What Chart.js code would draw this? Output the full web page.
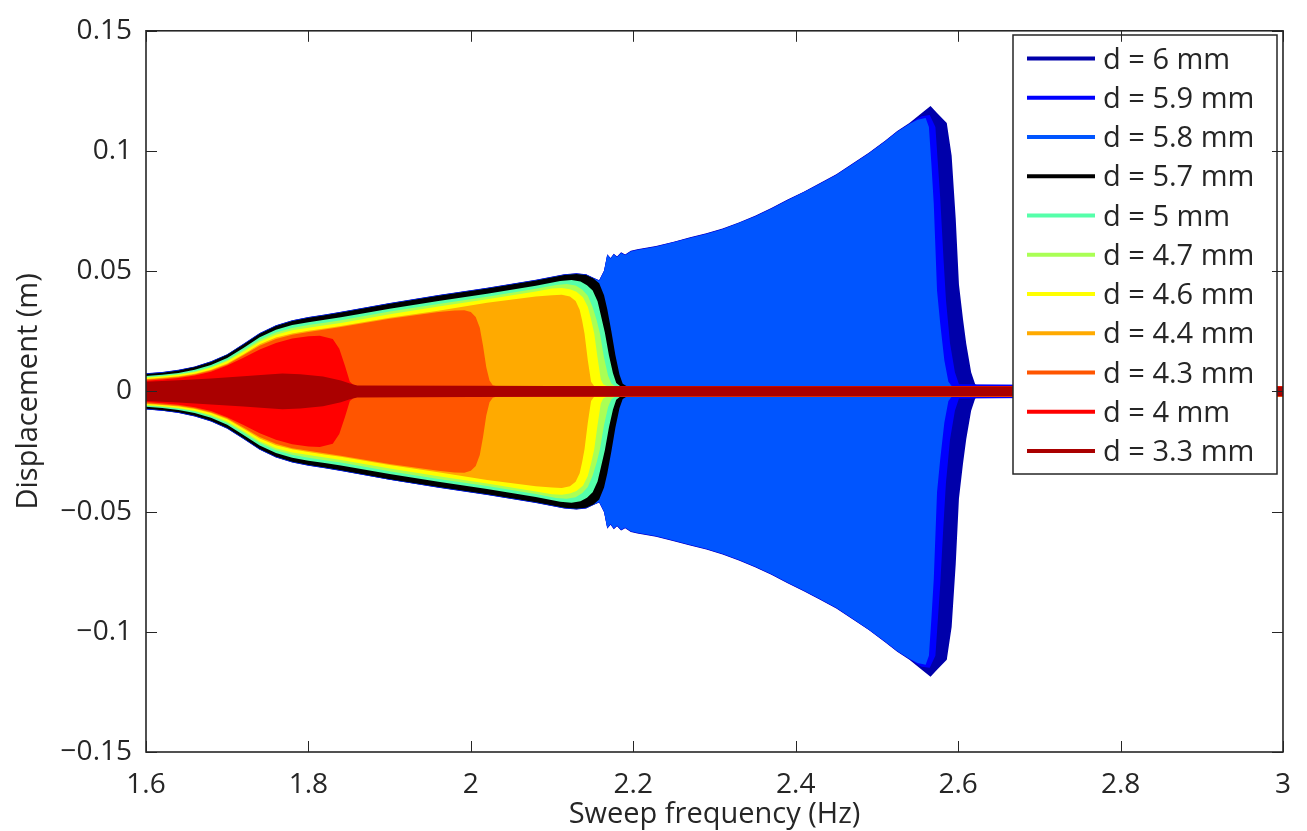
<!DOCTYPE html>
<html>
<head>
<meta charset="utf-8">
<title>Displacement vs sweep frequency</title>
<script src="https://cdn.jsdelivr.net/npm/chart.js@4.4.1/dist/chart.umd.min.js"></script>
<style>
  html, body { margin: 0; padding: 0; background: #ffffff; }
  #wrap { width: 1307px; height: 831px; }
</style>
</head>
<body>
<div id="wrap"><canvas id="chart" width="1307" height="831"></canvas></div>
<script>
// Series names and colours, in legend order
const seriesLabels = ['d = 6 mm', 'd = 5.9 mm', 'd = 5.8 mm', 'd = 5.7 mm', 'd = 5 mm',
  'd = 4.7 mm', 'd = 4.6 mm', 'd = 4.4 mm', 'd = 4.3 mm', 'd = 4 mm', 'd = 3.3 mm'];
const seriesColors = ['#0000aa', '#0000ff', '#0055ff', '#000000', '#55ffaa',
  '#aaff55', '#ffff00', '#ffaa00', '#ff5500', '#ff0000', '#aa0000'];

// Response envelopes: sweep frequency (Hz) and displacement amplitude (m)
const f60 = [1.6, 1.62, 1.64, 1.66, 1.68, 1.7, 1.72, 1.74, 1.76, 1.78, 1.8, 1.82, 1.84, 1.9, 1.96, 2.02, 2.08,
  2.115, 2.13, 2.142, 2.151, 2.158, 2.164, 2.168, 2.172, 2.176, 2.18, 2.185, 2.19, 2.197, 2.205, 2.228, 2.25, 2.27, 2.29, 2.31, 2.33,
  2.35, 2.37, 2.39, 2.41, 2.43, 2.45, 2.47, 2.49, 2.51, 2.525, 2.54,
  2.556, 2.566, 2.574, 2.586, 2.592, 2.597, 2.601, 2.606, 2.61, 2.616, 2.621, 2.625, 3.0];
const a60 = [0.0075, 0.0081, 0.009, 0.0104, 0.0125, 0.0155, 0.0198, 0.0243, 0.0275, 0.0296, 0.0309, 0.032, 0.0331, 0.0368, 0.0401, 0.0431, 0.0464,
  0.0487, 0.0491, 0.0487, 0.0473, 0.0462, 0.0503, 0.0571, 0.0555, 0.0573, 0.0561, 0.0579, 0.0569, 0.0585, 0.0591, 0.0605, 0.0623, 0.0641, 0.0658, 0.0678, 0.0703,
  0.0731, 0.0763, 0.0798, 0.0831, 0.0867, 0.0903, 0.0948, 0.0993, 0.1043, 0.1083, 0.1116,
  0.116, 0.1187, 0.1158, 0.1116, 0.098, 0.072, 0.0445, 0.03, 0.0198, 0.008, 0.003, 0.0022, 0.0021];

const f59 = [1.6, 1.62, 1.64, 1.66, 1.68, 1.7, 1.72, 1.74, 1.76, 1.78, 1.8, 1.82, 1.84, 1.9, 1.96, 2.02, 2.08,
  2.115, 2.13, 2.142, 2.151, 2.158, 2.164, 2.168, 2.172, 2.176, 2.18, 2.185, 2.19, 2.197, 2.205, 2.228, 2.25, 2.27, 2.29, 2.31, 2.33,
  2.35, 2.37, 2.39, 2.41, 2.43, 2.45, 2.47, 2.49, 2.51, 2.525, 2.54, 2.55,
  2.555, 2.565, 2.572, 2.575, 2.578, 2.582, 2.585, 2.59, 2.596, 2.601, 3.0];
const a59 = [0.0074, 0.008, 0.0089, 0.0103, 0.0124, 0.0154, 0.0197, 0.0242, 0.0274, 0.0295, 0.0308, 0.0319, 0.033, 0.0367, 0.04, 0.043, 0.0463,
  0.0486, 0.049, 0.0486, 0.0472, 0.0461, 0.0501, 0.0569, 0.0553, 0.0571, 0.0559, 0.0577, 0.0567, 0.0583, 0.0589, 0.0603, 0.0621, 0.0639, 0.0656, 0.0676, 0.0701,
  0.0729, 0.0761, 0.0796, 0.0829, 0.0865, 0.0901, 0.0946, 0.0991, 0.1041, 0.1081, 0.1113, 0.1135,
  0.1145, 0.115, 0.11, 0.095, 0.08, 0.055, 0.038, 0.02, 0.008, 0.003, 0.0021];

const f58 = [1.6, 1.62, 1.64, 1.66, 1.68, 1.7, 1.72, 1.74, 1.76, 1.78, 1.8, 1.82, 1.84, 1.9, 1.96, 2.02, 2.08,
  2.115, 2.13, 2.142, 2.151, 2.158, 2.164, 2.168, 2.172, 2.176, 2.18, 2.185, 2.19, 2.197, 2.205, 2.228, 2.25, 2.27, 2.29, 2.31, 2.33,
  2.35, 2.37, 2.39, 2.41, 2.43, 2.45, 2.47, 2.49, 2.51, 2.525, 2.54, 2.55,
  2.56, 2.564, 2.567, 2.57, 2.574, 2.578, 2.583, 2.588, 2.592, 3.0];
const a58 = [0.0073, 0.0079, 0.0088, 0.0102, 0.0123, 0.0153, 0.0196, 0.0241, 0.0273, 0.0294, 0.0307, 0.0318, 0.0329, 0.0366, 0.0399, 0.0429, 0.0462,
  0.0485, 0.0489, 0.0485, 0.0471, 0.046, 0.05, 0.0568, 0.0552, 0.057, 0.0558, 0.0576, 0.0566, 0.0582, 0.0588, 0.0602, 0.062, 0.0638, 0.0655, 0.0675, 0.07,
  0.0728, 0.076, 0.0795, 0.0828, 0.0864, 0.09, 0.0945, 0.099, 0.104, 0.108, 0.1112, 0.113,
  0.1137, 0.11, 0.095, 0.078, 0.042, 0.028, 0.013, 0.004, 0.0022, 0.0021];

const f57 = [1.6, 1.62, 1.64, 1.66, 1.68, 1.7, 1.72, 1.74, 1.76, 1.78, 1.8, 1.82, 1.84, 1.9, 1.96, 2.02, 2.08,
  2.115, 2.13, 2.142, 2.151, 2.158, 2.164, 2.168, 2.173, 2.178, 2.183, 2.187, 2.192, 3.0];
const a57 = [0.0072, 0.0078, 0.0087, 0.0101, 0.0122, 0.0152, 0.0195, 0.024, 0.0272, 0.0293, 0.0306, 0.0317, 0.0328, 0.0365, 0.0398, 0.0428, 0.0461,
  0.0484, 0.0488, 0.0484, 0.047, 0.045, 0.04, 0.0342, 0.025, 0.015, 0.007, 0.0032, 0.0021, 0.0021];

const f50 = [1.6, 1.62, 1.64, 1.66, 1.68, 1.7, 1.72, 1.74, 1.76, 1.78, 1.8, 1.82, 1.84, 1.9, 1.96, 2.02, 2.08,
  2.11, 2.124, 2.135, 2.143, 2.15, 2.156, 2.16, 2.165, 2.17, 2.175, 2.179, 2.184, 3.0];
const a50 = [0.0064, 0.0069, 0.0077, 0.009, 0.011, 0.0139, 0.0181, 0.0225, 0.0256, 0.0276, 0.0288, 0.0298, 0.0308, 0.0344, 0.0376, 0.0406, 0.0439,
  0.0459, 0.0463, 0.0457, 0.0442, 0.042, 0.0375, 0.0318, 0.0245, 0.015, 0.0075, 0.0035, 0.0021, 0.0021];

const f47 = [1.6, 1.62, 1.64, 1.66, 1.68, 1.7, 1.72, 1.74, 1.76, 1.78, 1.8, 1.82, 1.84, 1.9, 1.96, 2.02, 2.08,
  2.105, 2.118, 2.129, 2.137, 2.144, 2.15, 2.155, 2.159, 2.164, 2.169, 2.173, 2.178, 3.0];
const a47 = [0.006, 0.0065, 0.0072, 0.0084, 0.0103, 0.0131, 0.0172, 0.0215, 0.0245, 0.0264, 0.0276, 0.0286, 0.0296, 0.0332, 0.0364, 0.0394, 0.0427,
  0.0443, 0.0447, 0.044, 0.0424, 0.0398, 0.035, 0.0295, 0.024, 0.014, 0.0065, 0.0033, 0.0021, 0.0021];

const f46 = [1.6, 1.62, 1.64, 1.66, 1.68, 1.7, 1.72, 1.74, 1.76, 1.78, 1.8, 1.82, 1.84, 1.9, 1.96, 2.02, 2.08,
  2.1, 2.112, 2.122, 2.13, 2.138, 2.144, 2.148, 2.152, 2.156, 2.16, 2.163, 2.168, 3.0];
const a46 = [0.0057, 0.0062, 0.0069, 0.008, 0.0098, 0.0125, 0.0165, 0.0207, 0.0236, 0.0254, 0.0265, 0.0275, 0.0285, 0.0321, 0.0353, 0.0383, 0.0416,
  0.0428, 0.043, 0.0425, 0.0414, 0.0392, 0.0352, 0.03, 0.024, 0.014, 0.005, 0.003, 0.0021, 0.0021];

const f44 = [1.6, 1.62, 1.64, 1.66, 1.68, 1.7, 1.72, 1.74, 1.76, 1.78, 1.8, 1.82, 1.84, 1.9, 1.96, 2.02, 2.08,
  2.1, 2.112, 2.122, 2.129, 2.134, 2.137, 2.14, 2.144, 2.148, 2.152, 3.0];
const a44 = [0.0052, 0.0057, 0.0063, 0.0073, 0.009, 0.0116, 0.0155, 0.0196, 0.0224, 0.0241, 0.0252, 0.0262, 0.0272, 0.0306, 0.0336, 0.0369, 0.0395,
  0.04, 0.0402, 0.0395, 0.0376, 0.034, 0.0295, 0.024, 0.013, 0.004, 0.0021, 0.0021];

const f43 = [1.6, 1.62, 1.64, 1.66, 1.68, 1.7, 1.72, 1.74, 1.76, 1.78, 1.8, 1.82, 1.84, 1.9, 1.96,
  1.98, 1.992, 2.0, 2.006, 2.011, 2.015, 2.019, 2.023, 2.027, 2.032, 3.0];
const a43 = [0.0049, 0.0054, 0.006, 0.007, 0.0087, 0.0112, 0.015, 0.019, 0.0218, 0.0236, 0.0247, 0.0257, 0.0268, 0.0302, 0.033,
  0.0337, 0.0338, 0.033, 0.031, 0.0265, 0.019, 0.01, 0.0045, 0.0026, 0.0021, 0.0021];

const f40 = [1.6, 1.62, 1.64, 1.66, 1.68, 1.7, 1.72, 1.74, 1.76, 1.78, 1.8, 1.814, 1.83, 1.838, 1.845, 1.851, 1.856, 1.862, 3.0];
const a40 = [0.0044, 0.0049, 0.0056, 0.0066, 0.0082, 0.0108, 0.014, 0.0174, 0.0201, 0.022, 0.0229, 0.0231, 0.0218, 0.0177, 0.0107, 0.004, 0.0026, 0.0021, 0.0021];

const f33 = [1.6, 1.64, 1.68, 1.72, 1.75, 1.768, 1.79, 1.818, 1.84, 1.851, 1.86, 2.0, 2.2, 2.6, 3.0];
const a33 = [0.004, 0.0046, 0.0054, 0.0063, 0.007, 0.0074, 0.0071, 0.0062, 0.0045, 0.0033, 0.0025, 0.0023, 0.0021, 0.002, 0.0019];

const envelopes = [[f60, a60], [f59, a59], [f58, a58], [f57, a57], [f50, a50],
  [f47, a47], [f46, a46], [f44, a44], [f43, a43], [f40, a40], [f33, a33]];

// Axis ticks and their labels
const xTicks = [1.6, 1.8, 2.0, 2.2, 2.4, 2.6, 2.8, 3.0];
const xTickLabels = ['1.6', '1.8', '2', '2.2', '2.4', '2.6', '2.8', '3'];
const yTicks = [-0.15, -0.1, -0.05, 0, 0.05, 0.1, 0.15];
const yTickLabels = ['\u22120.15', '\u22120.1', '\u22120.05', '0', '0.05', '0.1', '0.15'];

const FONT = '"Open Sans", "Noto Sans", sans-serif';
const INK = '#262626';

// Each envelope becomes a closed outline: upper edge left to right, lower edge back
function outline(freqs, amps) {
  const pts = [];
  for (let i = 0; i < freqs.length; i++) pts.push({ x: freqs[i], y: amps[i] });
  for (let i = freqs.length - 1; i >= 0; i--) pts.push({ x: freqs[i], y: -amps[i] });
  return pts;
}

// Later series in the legend are painted on top of earlier ones
const datasets = envelopes.map(([fr, am], i) => ({
  label: seriesLabels[i],
  data: outline(fr, am),
  borderColor: seriesColors[i],
  backgroundColor: seriesColors[i],
  borderWidth: 0,
  fill: 'shape',
  pointRadius: 0,
  tension: 0,
  order: seriesLabels.length - i
}));

// Inward tick marks on all four sides plus the axes box
const framePlugin = {
  id: 'frame',
  afterDraw(chart) {
    const { ctx, chartArea: a, scales } = chart;
    const len = 11;
    ctx.save();
    ctx.strokeStyle = INK;
    ctx.lineWidth = 1;
    ctx.beginPath();
    xTicks.forEach(v => {
      const px = Math.round(scales.x.getPixelForValue(v)) + 0.5;
      ctx.moveTo(px, a.bottom); ctx.lineTo(px, a.bottom - len);
      ctx.moveTo(px, a.top); ctx.lineTo(px, a.top + len);
    });
    yTicks.forEach(v => {
      const py = Math.round(scales.y.getPixelForValue(v)) + 0.5;
      ctx.moveTo(a.left, py); ctx.lineTo(a.left + len, py);
      ctx.moveTo(a.right, py); ctx.lineTo(a.right - len, py);
    });
    ctx.stroke();
    ctx.lineWidth = 1.6;
    ctx.strokeRect(a.left, a.top, a.right - a.left, a.bottom - a.top);
    ctx.restore();
  }
};

// Boxed legend in the upper right corner of the plot
const legendPlugin = {
  id: 'boxLegend',
  afterDatasetsDraw(chart) {
    const ctx = chart.ctx;
    const box = { left: 1013, top: 35, right: 1277, bottom: 474 };
    ctx.save();
    ctx.fillStyle = '#ffffff';
    ctx.fillRect(box.left, box.top, box.right - box.left, box.bottom - box.top);
    ctx.strokeStyle = INK;
    ctx.lineWidth = 1.5;
    ctx.strokeRect(box.left, box.top, box.right - box.left, box.bottom - box.top);
    ctx.font = '29px ' + FONT;
    ctx.textBaseline = 'middle';
    ctx.textAlign = 'left';
    chart.data.datasets.forEach((ds, i) => {
      const y = 58.5 + i * 39.24;
      ctx.strokeStyle = ds.borderColor;
      ctx.lineWidth = 4;
      ctx.beginPath();
      ctx.moveTo(1027, y); ctx.lineTo(1095, y);
      ctx.stroke();
      ctx.fillStyle = INK;
      ctx.fillText(ds.label, 1103, y + 2);
    });
    ctx.restore();
  }
};

new Chart(document.getElementById('chart').getContext('2d'), {
  type: 'line',
  data: { datasets },
  options: {
    responsive: false,
    animation: false,
    events: [],
    layout: { padding: { top: 24, right: 22, left: 0, bottom: 0 } },
    plugins: { legend: { display: false }, tooltip: { enabled: false } },
    scales: {
      x: {
        type: 'linear', min: 1.6, max: 3.0,
        grid: { display: false, drawTicks: false },
        border: { display: false },
        afterBuildTicks: s => { s.ticks = xTicks.map(v => ({ value: v })); },
        afterFit: s => { s.height = 79; },
        ticks: {
          autoSkip: false, maxRotation: 0, padding: 16, color: INK,
          font: { family: FONT, size: 28 },
          callback: (v, i) => xTickLabels[i]
        },
        title: {
          display: true, text: 'Sweep frequency (Hz)', color: INK,
          font: { family: FONT, size: 29, lineHeight: 1.1 }, padding: { top: 0, bottom: 0 }
        }
      },
      y: {
        type: 'linear', min: -0.15, max: 0.15,
        grid: { display: false, drawTicks: false },
        border: { display: false },
        afterBuildTicks: s => { s.ticks = yTicks.map(v => ({ value: v })); },
        afterFit: s => { s.width = 146; },
        ticks: {
          autoSkip: false, padding: 14, color: INK,
          font: { family: FONT, size: 28 },
          callback: (v, i) => yTickLabels[i]
        },
        title: {
          display: true, text: 'Displacement (m)', color: INK,
          font: { family: FONT, size: 29, lineHeight: 1.1 }, padding: { top: 13, bottom: 0 }
        }
      }
    }
  },
  plugins: [legendPlugin, framePlugin]
});
</script>
</body>
</html>
